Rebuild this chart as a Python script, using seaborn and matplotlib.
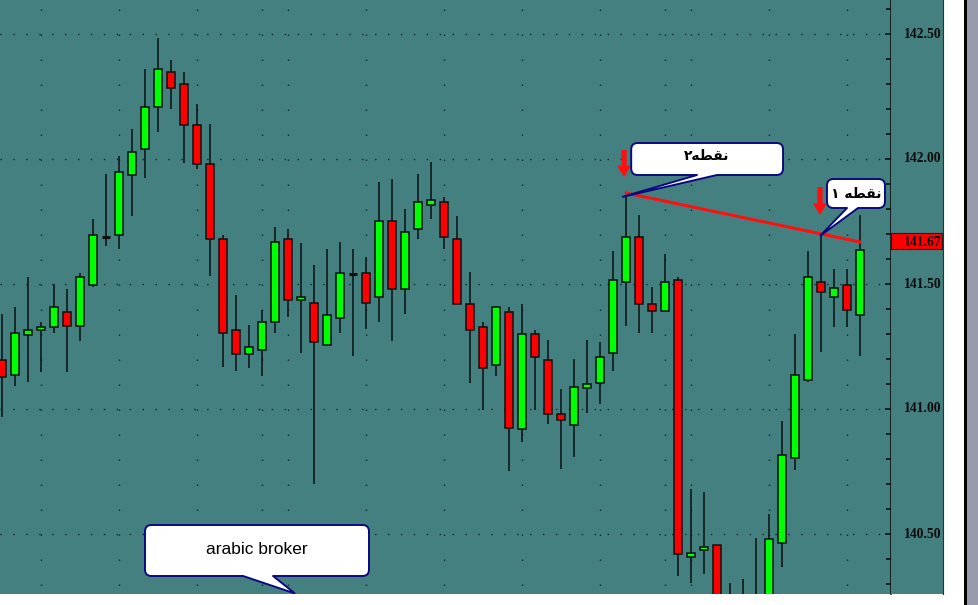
import numpy as np
import pandas as pd
import matplotlib
matplotlib.use("Agg")
import matplotlib.pyplot as plt
import seaborn as sns
from matplotlib.patches import FancyBboxPatch, Polygon, Rectangle
from matplotlib.ticker import MultipleLocator

# candle data, one entry per bar
opens = [141.196, 141.136, 141.296, 141.316, 141.328, 141.388, 141.332, 141.496, 141.690, 141.696,
         141.936, 142.040, 142.208, 142.348, 142.300, 142.136, 141.980, 141.680, 141.316, 141.220,
         141.236, 141.348, 141.680, 141.436, 141.424, 141.256, 141.364, 141.540, 141.544, 141.448,
         141.752, 141.480, 141.720, 141.816, 141.828, 141.680, 141.420, 141.328, 141.176, 141.388,
         140.920, 141.300, 141.196, 140.980, 140.936, 141.084, 141.104, 141.224, 141.508, 141.688,
         141.420, 141.392, 141.516, 140.408, 140.436, 140.456, 140.200, 140.180, 140.100, 140.150,
         140.464, 140.804, 141.116, 141.508, 141.448, 141.496, 141.376]
highs = [141.380, 141.408, 141.528, 141.348, 141.500, 141.480, 141.544, 141.760, 141.940, 142.012,
         142.120, 142.360, 142.484, 142.396, 142.348, 142.220, 142.140, 141.696, 141.456, 141.336,
         141.396, 141.728, 141.720, 141.664, 141.576, 141.640, 141.668, 141.640, 141.608, 141.908,
         141.920, 141.800, 141.940, 141.988, 141.848, 141.772, 141.548, 141.348, 141.408, 141.408,
         141.420, 141.316, 141.276, 141.080, 141.200, 141.276, 141.268, 141.632, 141.856, 141.776,
         141.488, 141.620, 141.528, 140.680, 140.668, 140.456, 140.304, 140.320, 140.484, 140.580,
         140.952, 141.300, 141.632, 141.696, 141.560, 141.560, 141.776]
lows = [140.968, 141.092, 141.108, 141.148, 141.304, 141.148, 141.272, 141.488, 141.652, 141.640,
        141.772, 141.924, 142.108, 142.200, 141.984, 141.960, 141.532, 141.168, 141.152, 141.164,
        141.132, 141.304, 141.368, 141.224, 140.700, 141.252, 141.304, 141.212, 141.320, 141.348,
        141.272, 141.380, 141.680, 141.760, 141.640, 141.420, 141.104, 140.996, 141.132, 140.752,
        140.868, 140.996, 140.940, 140.760, 140.808, 140.984, 141.020, 141.152, 141.332, 141.304,
        141.304, 141.392, 140.332, 140.304, 140.340, 140.100, 140.050, 140.020, 140.050, 140.100,
        140.368, 140.756, 141.108, 141.228, 141.328, 141.328, 141.212]
closes = [141.128, 141.304, 141.316, 141.328, 141.408, 141.332, 141.528, 141.696, 141.690, 141.948,
          142.028, 142.208, 142.360, 142.284, 142.136, 141.980, 141.680, 141.304, 141.220, 141.248,
          141.348, 141.668, 141.436, 141.448, 141.268, 141.376, 141.544, 141.540, 141.424, 141.752,
          141.480, 141.708, 141.828, 141.836, 141.688, 141.420, 141.316, 141.164, 141.408, 140.924,
          141.300, 141.208, 140.980, 140.956, 141.088, 141.100, 141.208, 141.516, 141.688, 141.420,
          141.392, 141.508, 140.420, 140.424, 140.448, 140.150, 140.120, 140.100, 140.220, 140.480,
          140.816, 141.136, 141.528, 141.468, 141.484, 141.396, 141.636]

# bars where the vertical (session) grid lines sit
grid_bars = [3, 9, 15, 20, 22, 28, 34, 40, 46, 51, 53, 59, 65]
price_ticks = [140.50, 141.00, 141.50, 142.00, 142.50]
last_price = 141.67
trend_bars = [48, 66]
trend_prices = [141.864, 141.668]
point_labels = ["نقطه۲", "نقطه ۱"]
broker_label = "arabic broker"

df = pd.DataFrame({"bar": np.arange(len(opens)), "open": opens, "high": highs,
                   "low": lows, "close": closes})

TEAL = "#458080"
NAVY = "#0a0a80"

sns.set_style("white", {"axes.facecolor": TEAL})
plt.rcParams["font.family"] = ["DejaVu Sans"]

fig = plt.figure(figsize=(9.79, 6.05), dpi=100, facecolor="white")
W, H = 979, 605
ax = fig.add_axes([0, 11 / H, 891 / W, 594 / H])
panel = fig.add_axes([891 / W, 11 / H, 52 / W, 594 / H], sharey=ax)

ax.set_facecolor(TEAL)
panel.set_facecolor(TEAL)
ax.set_xlim(-0.154, 68.385)
ax.set_ylim(140.26, 142.636)

# dotted grid
for p in price_ticks:
    ax.axhline(p, color="#122828", lw=1.0, ls=(0, (1, 8.3)), zorder=1)
ax.vlines(grid_bars, 142.636, 140.26, color="#122828", lw=1.0, ls=(11.5, (1, 17)), zorder=1)

# wicks
ax.vlines(df["bar"], df["low"], df["high"], color="#101818", lw=1.2, zorder=2)

# bodies
body = df[(df["close"] - df["open"]).abs() > 0.001]
up = body["close"] > body["open"]
ax.bar(body["bar"], (body["close"] - body["open"]).abs(),
       bottom=body[["open", "close"]].min(axis=1), width=0.62,
       color=np.where(up, "#00ff00", "#ff0000"), edgecolor="#101010", lw=1.1, zorder=3)
doji = df[(df["close"] - df["open"]).abs() <= 0.001]
ax.hlines(doji["close"], doji["bar"] - 0.33, doji["bar"] + 0.33, color="#101010", lw=2.2, zorder=3)

# trend line
sns.lineplot(x=trend_bars, y=trend_prices, ax=ax, color="#ff1010", lw=2.2, zorder=4)

# red down arrows (x in bars, y in price; widths set per axis scale)
for bx, ytail, ytip in [(47.85, 142.036, 141.928), (62.92, 141.888, 141.776)]:
    ax.arrow(bx, ytail, 0, ytip - ytail, width=0.4, head_width=1.08, head_length=0.046,
             length_includes_head=True, fc="#ff1010", ec="none", zorder=6)


def callout(x0, x1, y0, y1, base, tip, text, tx, ty, **kw):
    box = FancyBboxPatch((x0, y0), x1 - x0, y1 - y0,
                         boxstyle="round,pad=0,rounding_size=0.5", mutation_aspect=13 / 250,
                         fc="white", ec=NAVY, lw=1.4, zorder=7)
    ax.add_patch(box)
    ax.add_patch(Polygon([(base[0], y0 + 0.008), (base[0], y0), tip, (base[1], y0),
                          (base[1], y0 + 0.008)], closed=True, fc="white", ec="none", zorder=8))
    ax.plot([base[0], tip[0], base[1]], [y0, tip[1], y0], color=NAVY, lw=1.4, zorder=8,
            solid_joinstyle="miter")
    ax.text(tx, ty, text, ha="center", va="center", zorder=9, **kw)


# minimal Arabic shaping (matplotlib draws no joins and no right-to-left order)
FORMS = {"ن": "\ufee5\ufee6\ufee7\ufee8", "ق": "\ufed5\ufed6\ufed7\ufed8",
         "ط": "\ufec1\ufec2\ufec3\ufec4", "ه": "\ufee9\ufeea\ufeeb\ufeec"}


def shape(s):
    out = []
    for i, ch in enumerate(s):
        if ch in FORMS:
            prev = i > 0 and s[i - 1] in FORMS
            nxt = i < len(s) - 1 and s[i + 1] in FORMS
            # 0 isolated, 1 final, 2 initial, 3 medial
            form = 3 if (prev and nxt) else 1 if prev else 2 if nxt else 0
            out.append(FORMS[ch][form])
        else:
            out.append(ch)
    return "".join(out[::-1])


callout(48.4, 60.08, 141.936, 142.064, (53.46, 55.0), (47.69, 141.848), shape(point_labels[0]),
        54.23, 142.01, fontsize=10, fontweight="bold", color="black")
callout(63.46, 67.92, 141.804, 141.92, (65.0, 65.85), (62.92, 141.692), shape(point_labels[1]),
        65.7, 141.862, fontsize=10, fontweight="bold", color="black")
callout(11.0, 28.23, 140.332, 140.536, (18.54, 20.85), (22.54, 140.262), broker_label,
        19.6, 140.436, fontsize=12.5, family=["Liberation Sans"], color="black")

# right price scale
for s in ["top", "left", "bottom"]:
    ax.spines[s].set_visible(False)
ax.spines["right"].set_color("#101010")
ax.spines["right"].set_linewidth(1.2)
ax.set_xticks([])
ax.yaxis.set_major_locator(MultipleLocator(0.5))
ax.yaxis.set_minor_locator(MultipleLocator(0.1))
ax.tick_params(axis="y", which="both", left=False, right=True, labelleft=False, labelright=False,
               direction="in", color="#101010", width=1.2)
ax.tick_params(axis="y", which="major", length=4.5)
ax.tick_params(axis="y", which="minor", length=3.5)

panel.set_xlim(0, 1)
panel.set_xticks([])
panel.tick_params(axis="y", which="both", left=False, right=False, labelleft=False, labelright=False)
for s in ["top", "bottom", "left"]:
    panel.spines[s].set_visible(False)
panel.spines["right"].set_color("#303030")
panel.spines["right"].set_linewidth(0.8)
for p in price_ticks:
    panel.text(0.965, p, f"{p:.2f}", ha="right", va="center", fontsize=9.8,
               family=["Liberation Serif"], fontweight="bold", color="#0a0a0a")
panel.add_patch(Rectangle((0, last_price - 0.03), 0.985, 0.062, fc="#ff0000", ec="#202020", lw=0.8,
                          zorder=5))
panel.text(0.965, last_price - 0.002, f"{last_price:.2f}", ha="right", va="center", fontsize=9.8,
           family=["Liberation Serif"], fontweight="bold", color="#0a0a0a", zorder=6)

# window frame strips on the far right
fig.add_artist(Rectangle((964 / W, 0), 3 / W, 1, transform=fig.transFigure, fc="black", ec="none"))
fig.add_artist(Rectangle((967 / W, 0), 12 / W, 1, transform=fig.transFigure, fc="#979aab", ec="none"))

fig.savefig("out.png", dpi=100, facecolor="white")
